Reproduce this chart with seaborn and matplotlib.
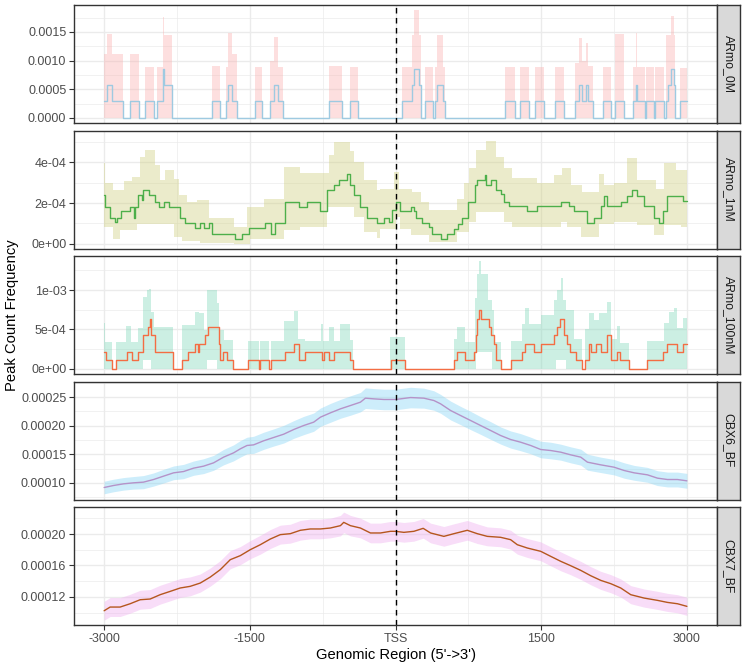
import numpy as np
import pandas as pd
import matplotlib
matplotlib.use("Agg")
import matplotlib.pyplot as plt
import seaborn as sns
from matplotlib.ticker import FixedLocator, FixedFormatter

sns.set_style("white")
plt.rcParams["font.family"] = ["Liberation Sans", "DejaVu Sans"]

# ---------------- data ----------------
facets = ["ARmo_0M", "ARmo_1nM", "ARmo_100nM", "CBX6_BF", "CBX7_BF"]
x_ticks = [-3000, -1500, 0, 1500, 3000]
x_ticklabels = ["-3000", "-1500", "TSS", "1500", "3000"]

# ARmo_0M (values in units of 1e-4, step changes at x)
p1_mean_x = [-3000, -2969, -2915, -2807, -2738, -2645, -2575, -2485, -2454, -2395, -2385, -2302,
             -1893, -1804, -1749, -1722, -1687, -1632, -1450, -1371, -1296, -1247, -1206, -1158,
             -684, -553, -471, -385, 72, 165, 186, 240, 265, 302, 385, 405, 430, 488, 508,
             1124, 1234, 1278, 1371, 1433, 1526, 1643, 1732, 1849, 1890, 1918, 1959, 1983, 2031,
             2134, 2216, 2265, 2357, 2443, 2475, 2485, 2570, 2580, 2663, 2670, 2766, 2790, 2810,
             2835, 2870, 2879, 2930]
p1_mean = [2.87, 5.74, 2.87, 0, 2.87, 0, 2.87, 0, 2.87, 8.61, 5.74, 0,
           2.87, 0, 2.87, 5.74, 2.87, 0, 2.87, 0, 2.87, 5.74, 2.87, 0,
           2.87, 0, 2.87, 0, 2.87, 5.74, 8.61, 5.74, 0, 2.87, 0, 2.87, 5.74, 2.87, 0,
           2.87, 0, 2.87, 0, 2.87, 0, 2.87, 0, 2.87, 5.74, 2.87, 5.74, 2.87, 0,
           2.87, 0, 2.87, 0, 2.87, 5.74, 2.87, 0, 2.87, 0, 2.87, 0, 2.87, 5.74,
           8.61, 5.74, 0, 2.87]
p1_hi = [11.2, 14.7, 11.2, 0, 11.2, 0, 8.9, 0, 8.9, 17.6, 14.5, 0,
         9.0, 0, 8.9, 14.8, 11.2, 0, 8.9, 0, 10.0, 14.2, 8.8, 0,
         9.0, 0, 8.8, 0, 8.8, 14.5, 18.9, 14.5, 0, 8.8, 0, 8.8, 14.5, 8.8, 0,
         8.8, 0, 8.8, 0, 8.8, 0, 8.8, 0, 9.5, 14.0, 10.0, 13.0, 9.0, 0,
         8.8, 0, 14.7, 0, 8.8, 14.8, 8.8, 0, 8.8, 0, 8.8, 0, 14.5, 14.5,
         17.7, 14.5, 0, 8.7]
p1_lo_x = [-3000]
p1_lo = [0]

# ARmo_1nM (units of 1e-4)
p2_mean_x = [-3000, -2990, -2938, -2887, -2869, -2828, -2732, -2691, -2680, -2646, -2612, -2601,
             -2536, -2471, -2430, -2388, -2337, -2217, -2165, -2062, -2010, -1976, -1924, -1890,
             -1650, -1581, -1512, -1340, -1282, -1237, -1134, -997, -911, -773, -705, -636, -584,
             -499, -464, -430, -361, -293, -189, -120, -69, -34, 0, 51, 155, 189, 216, 275, 344,
             378, 464, 533, 601, 642, 687, 746, 814, 842, 918, 928, 979, 1031, 1082, 1117, 1168,
             1357, 1460, 1701, 1787, 1838, 1976, 2044, 2113, 2147, 2182, 2319, 2388, 2440, 2491,
             2560, 2663, 2715, 2749, 2800, 2955]
p2_mean = [2.39, 1.81, 1.28, 1.07, 1.28, 1.61, 1.81, 1.28, 1.81, 2.39, 2.14, 2.62,
           2.39, 2.06, 1.81, 2.06, 1.81, 1.28, 1.02, 0.79, 1.02, 0.79, 1.02, 0.49,
           0.25, 0.49, 0.79, 1.02, 0.49, 1.02, 2.06, 1.81, 2.06, 1.61, 2.62, 2.88, 3.13,
           3.41, 2.88, 2.39, 1.81, 1.28, 1.02, 1.27, 1.07, 1.64, 2.06, 1.6, 1.81, 1.6, 1.27, 1.02, 0.82,
           0.49, 0.25, 0.49, 0.74, 0.99, 1.27, 2.06, 2.88, 3.13, 3.40, 2.88, 3.13, 2.63, 2.42, 2.06, 1.84,
           1.6, 1.84, 2.06, 1.84, 1.6, 1.04, 1.27, 1.84, 2.35, 1.84, 2.06, 2.35, 2.63, 2.35,
           1.84, 1.27, 1.04, 1.6, 2.35, 2.09]
p2_hi_x = [-3000, -2990, -2904, -2794, -2715, -2629, -2577, -2474, -2423, -2371, -2285, -2234,
           -2148, -2045, -1924, -1667, -1529, -1358, -1151, -980, -688, -636, -464, -430, -327,
           -189, -155, -17, 34, 172, 258, 344, 636, 704, 756, 825, 928, 1031, 1117, 1203, 1460,
           1632, 1718, 1804, 1924, 2096, 2147, 2250, 2388, 2491, 2680, 2766, 2886]
p2_hi = [3.95, 2.96, 2.63, 3.08, 3.29, 4.28, 4.58, 3.87, 3.13, 3.62, 3.16, 2.39,
         2.06, 2.14, 1.28, 0.82, 1.81, 2.22, 3.79, 3.46, 4.36, 5.02, 4.53, 4.03, 3.13,
         2.63, 2.71, 3.54, 2.71, 2.55, 2.06, 1.64, 2.22, 2.96, 3.70, 4.61, 5.05, 4.28, 3.70, 3.21, 2.96,
         3.37, 3.70, 2.88, 2.55, 3.45, 2.88, 2.96, 4.19, 3.13, 2.71, 3.95, 3.62]
p2_lo_x = [-3000, -2904, -2835, -2663, -2285, -2199, -2010, -1667, -1495, -1151, -980, -705,
           -430, -327, -189, -155, 0, 51, 155, 344, 636, 756, 825, 1117, 1203, 1701, 1770,
           1907, 2096, 2250, 2491, 2663, 2766, 2938]
p2_lo = [0.82, 0.25, 0.66, 0.95, 0.33, 0.16, 0.03, 0.0, 0.25, 0.66, 0.82, 1.81,
         1.32, 0.58, 0.30, 0.74, 1.32, 0.74, 0.41, 0.08, 0.58, 1.07, 1.56, 1.07, 0.82, 1.07, 0.82,
         0.33, 0.99, 1.07, 0.9, 0.41, 0.9, 0.82]

# ARmo_100nM (units of 1e-4)
p3_mean_x = [-3000, -2979, -2914, -2876, -2766, -2715, -2646, -2601, -2543, -2526, -2515, -2481,
             -2292, -2199, -2138, -2062, -2038, -2024, -1959, -1935, -1821, -1804, -1777, -1735,
             -1677, -1522, -1409, -1399, -1306, -1282, -1134, -1048, -997, -928, -756, -732, -688,
             -636, -464, -437, -45, 93, 601, 636, 715, 808, 828, 842, 860, 876, 962, 986, 1014,
             1031, 1089, 1185, 1306, 1330, 1426, 1501, 1632, 1660, 1694, 1735, 1763, 1797, 1855,
             1924, 1948, 1993, 2017, 2062, 2113, 2182, 2216, 2278, 2312, 2405, 2594, 2749, 2800,
             2903, 2955]
p3_mean = [2.12, 1.06, 0, 1.06, 2.12, 1.06, 2.12, 4.24, 5.3, 6.36, 4.24, 2.12,
           0, 1.06, 2.12, 3.18, 2.12, 3.18, 4.24, 5.3, 3.18, 1.06, 2.12, 1.06,
           0, 1.06, 0, 1.06, 0, 1.06, 2.12, 3.18, 1.06, 2.12, 1.06, 2.12, 1.06,
           2.12, 1.06, 0, 1.06, 0, 1.06, 2.12, 1.06, 2.12, 4.24, 6.36, 7.42, 6.36, 5.3, 4.24, 3.18,
           1.06, 0, 1.06, 2.12, 3.18, 2.12, 3.18, 4.24, 5.3, 6.36, 4.24, 3.18, 2.12, 1.06,
           0, 1.06, 3.18, 2.12, 3.18, 2.12, 4.24, 1.06, 2.12, 1.06, 0, 1.06, 2.12, 3.18,
           2.12, 3.18]
p3_hi_x = [-3000, -2990, -2914, -2876, -2773, -2725, -2656, -2601, -2560, -2536, -2519, -2485,
           -2292, -2199, -2062, -2024, -1969, -1942, -1839, -1814, -1770, -1677, -1522, -1409,
           -1399, -1306, -1282, -1151, -1048, -1004, -928, -766, -746, -688, -636, -574, -464,
           -437, -52, 93, 601, 636, 711, 814, 842, 860, 876, 952, 996, 1014, 1089, 1185, 1306,
           1330, 1374, 1501, 1632, 1666, 1701, 1728, 1752, 1838, 1924, 1948, 1993, 2044, 2096,
           2182, 2216, 2278, 2312, 2405, 2594, 2766, 2818, 2869, 2903, 2955]
p3_hi = [5.85, 3.43, 0, 3.43, 5.42, 3.43, 5.13, 9.15, 10.0, 10.2, 7.25, 5.34,
         0, 5.55, 7.25, 7.03, 4.92, 10.0, 8.31, 4.92, 3.64, 0, 3.56, 0,
         3.56, 0, 3.56, 6.1, 7.33, 3.73, 3.56, 5.68, 3.56, 5.34, 3.56, 5.68, 3.64,
         0, 3.98, 0, 3.73, 5.34, 3.43, 8.94, 12.1, 13.7, 12.1, 8.73, 7.46, 3.43, 0, 3.56, 5.68,
         7.67, 5.68, 6.82, 8.73, 10.0, 11.5, 8.73, 7.46, 3.73, 0, 5.0, 7.12, 6.19, 7.12,
         8.52, 3.73, 5.42, 3.31, 0, 3.56, 5.76, 7.25, 7.67, 5.13, 6.4]
p3_lo_x = [-3000, -2601, -2519, -1942, -1839, 831, 996, 1649, 1752]
p3_lo = [0, 1.06, 0, 1.06, 0, 2.12, 0, 1.06, 0]

# CBX6_BF (units of 1e-5)
cbx6_x = [-3000, -2904, -2801, -2698, -2595, -2491, -2388, -2285, -2182, -2079, -1976, -1873,
          -1770, -1667, -1598, -1529, -1461, -1358, -1255, -1151, -1048, -945, -842, -773,
          -670, -567, -464, -361, -310, -224, -120, 0, 52, 155, 292, 395, 464, 567, 670, 773,
          876, 979, 1082, 1185, 1288, 1392, 1495, 1598, 1701, 1804, 1907, 1976, 2113, 2250,
          2354, 2457, 2594, 2697, 2800, 2903, 3000]
cbx6_mean = [9.18, 9.53, 9.82, 10.0, 10.12, 10.58, 11.17, 11.75, 11.98, 12.57, 12.92, 13.5,
             14.5, 15.25, 15.95, 16.54, 16.65, 17.36, 17.94, 18.52, 19.34, 20.04, 20.63, 21.5,
             22.26, 22.96, 23.54, 24.13, 24.83, 24.71, 24.6, 24.6, 24.71, 24.94, 24.83, 24.42,
             23.84, 22.67, 21.79, 20.92, 20.04, 19.17, 18.29, 17.59, 17.12, 16.54, 15.84, 15.66,
             15.37, 14.9, 14.5, 13.62, 13.15, 12.74, 12.16, 11.75, 11.4, 10.82, 10.58, 10.58, 10.35]
cbx6_ci = [1.1, 1.1, 1.1, 1.1, 1.15, 1.15, 1.2, 1.2, 1.25, 1.25, 1.3, 1.3,
           1.35, 1.4, 1.45, 1.45, 1.5, 1.5, 1.5, 1.55, 1.55, 1.6, 1.6, 1.6,
           1.65, 1.65, 1.7, 1.7, 1.8, 1.8, 1.8, 1.8, 1.8, 1.8, 1.75, 1.7,
           1.65, 1.65, 1.6, 1.6, 1.55, 1.55, 1.5, 1.5, 1.5, 1.45, 1.45, 1.45,
           1.4, 1.4, 1.4, 1.4, 1.35, 1.35, 1.35, 1.3, 1.3, 1.3, 1.3, 1.3, 1.3]

# CBX7_BF (units of 1e-5)
cbx7_x = [-3000, -2938, -2835, -2732, -2629, -2526, -2423, -2320, -2217, -2114, -2010, -1907,
          -1804, -1701, -1598, -1495, -1392, -1289, -1186, -1083, -980, -877, -774, -671,
          -567, -533, -464, -361, -258, -155, -52, 0, 86, 189, 285, 361, 498, 601, 739, 842,
          945, 1082, 1185, 1254, 1357, 1495, 1598, 1701, 1804, 1907, 2010, 2113, 2216, 2319,
          2422, 2560, 2697, 2800, 2903, 3000]
cbx7_mean = [10.25, 10.72, 10.72, 11.14, 11.65, 11.74, 12.29, 12.71, 13.14, 13.35, 13.77, 14.53,
             15.47, 16.74, 17.25, 18.01, 18.64, 19.36, 19.92, 20.04, 20.47, 20.64, 20.64, 20.76,
             21.06, 21.48, 21.06, 20.76, 20.13, 20.13, 20.34, 20.34, 20.21, 20.34, 20.72, 20.13,
             19.70, 20.04, 20.47, 20.04, 19.70, 19.58, 19.28, 18.64, 18.22, 17.80, 17.16, 16.53,
             15.97, 15.38, 14.70, 14.11, 13.69, 13.14, 12.29, 11.86, 11.57, 11.31, 11.14, 10.81]
cbx7_ci = [1.2, 1.2, 1.2, 1.2, 1.2, 1.2, 1.2, 1.2, 1.2, 1.2, 1.15, 1.15,
           1.15, 1.15, 1.15, 1.15, 1.2, 1.2, 1.2, 1.2, 1.25, 1.25, 1.25, 1.25,
           1.3, 1.3, 1.3, 1.25, 1.25, 1.25, 1.25, 1.25, 1.25, 1.25, 1.25, 1.25,
           1.25, 1.25, 1.25, 1.25, 1.2, 1.2, 1.2, 1.2, 1.2, 1.2, 1.2, 1.2,
           1.15, 1.15, 1.15, 1.15, 1.15, 1.15, 1.15, 1.15, 1.15, 1.15, 1.15, 1.15]

# y-axis ticks per facet
y_major = [[0.0, 0.0005, 0.0010, 0.0015],
           [0.0, 2e-4, 4e-4],
           [0.0, 5e-4, 1e-3],
           [1.0e-4, 1.5e-4, 2.0e-4, 2.5e-4],
           [1.2e-4, 1.6e-4, 2.0e-4]]
y_labels = [["0.0000", "0.0005", "0.0010", "0.0015"],
            ["0e+00", "2e-04", "4e-04"],
            ["0e+00", "5e-04", "1e-03"],
            ["0.00010", "0.00015", "0.00020", "0.00025"],
            ["0.00012", "0.00016", "0.00020"]]

# ---------------- style ----------------
fill_cols = ["#FAB1AF", "#CFCF7D", "#80D7B9", "#82D4F5", "#EEAAEE"]
line_cols = ["#9ECAE1", "#4DAF4A", "#F46D43", "#B592C8", "#B5561E"]
y_lims = [(-0.00009, 0.00197), (-0.000023, 0.000556), (-0.000067, 0.001434),
          (0.0000708, 0.0002775), (0.0000844, 0.0002343)]
y_minor = [[0.00025, 0.00075, 0.00125, 0.00175],
           [1e-4, 3e-4, 5e-4],
           [2.5e-4, 7.5e-4, 1.25e-3],
           [0.75e-4, 1.25e-4, 1.75e-4, 2.25e-4, 2.75e-4],
           [1.0e-4, 1.4e-4, 1.8e-4, 2.2e-4]]
x_minor = [-2250, -750, 750, 2250]

W, H = 745, 666
left_px, right_px = 74, 717
tops = [5, 130.5, 256, 381.5, 507]
ph = 118
X_END = 3000
TICK_FS = 9.0
TITLE_FS = 10.6
STRIP_FS = 8.8

fig = plt.figure(figsize=(W / 100, H / 100), dpi=100)


def step_eval(xs, vs, grid):
    idx = np.searchsorted(np.asarray(xs), grid, side="right") - 1
    return np.asarray(vs, dtype=float)[idx]


def step_panel(ax, mx, mv, hx, hv, lx, lv, scale, fill, line):
    grid = np.unique(np.concatenate([hx, lx, mx, [X_END]])).astype(float)
    hi = step_eval(hx, hv, grid) * scale
    lo = step_eval(lx, lv, grid) * scale
    ax.fill_between(grid, lo, hi, step="post", color=fill, alpha=0.4, lw=0, zorder=1)
    df = pd.DataFrame({"x": list(mx) + [X_END],
                       "y": (np.array(list(mv) + [mv[-1]], dtype=float) * scale)})
    sns.lineplot(data=df, x="x", y="y", ax=ax, color=line, lw=1.0,
                 drawstyle="steps-post", estimator=None, sort=False, zorder=2)


def smooth_panel(ax, xs, mean, ci, scale, fill, line):
    m = np.array(mean) * scale
    c = np.array(ci) * scale
    ax.fill_between(xs, m - c, m + c, color=fill, alpha=0.4, lw=0, zorder=1)
    df = pd.DataFrame({"x": xs, "y": m})
    sns.lineplot(data=df, x="x", y="y", ax=ax, color=line, lw=1.0,
                 estimator=None, sort=False, zorder=2)


axes = []
for i, top in enumerate(tops):
    bottom = 1 - (top + ph) / H
    ax = fig.add_axes([left_px / W, bottom, (right_px - left_px) / W, ph / H])
    axes.append(ax)
    if i == 0:
        step_panel(ax, p1_mean_x, p1_mean, p1_mean_x, p1_hi, p1_lo_x, p1_lo, 1e-4,
                   fill_cols[i], line_cols[i])
    elif i == 1:
        step_panel(ax, p2_mean_x, p2_mean, p2_hi_x, p2_hi, p2_lo_x, p2_lo, 1e-4,
                   fill_cols[i], line_cols[i])
    elif i == 2:
        step_panel(ax, p3_mean_x, p3_mean, p3_hi_x, p3_hi, p3_lo_x, p3_lo, 1e-4,
                   fill_cols[i], line_cols[i])
    elif i == 3:
        smooth_panel(ax, cbx6_x, cbx6_mean, cbx6_ci, 1e-5, fill_cols[i], line_cols[i])
    else:
        smooth_panel(ax, cbx7_x, cbx7_mean, cbx7_ci, 1e-5, fill_cols[i], line_cols[i])

    ax.axvline(0, color="black", ls=(0, (4, 3.2)), lw=1.0, zorder=3)
    ax.set_xlim(-3310, 3310)
    ax.set_ylim(*y_lims[i])
    ax.set_xlabel("")
    ax.set_ylabel("")
    ax.set_facecolor("white")
    for s in ax.spines.values():
        s.set_color("#333333")
        s.set_linewidth(1.0)
        s.set_zorder(4)
    ax.xaxis.set_major_locator(FixedLocator(x_ticks))
    ax.xaxis.set_minor_locator(FixedLocator(x_minor))
    ax.yaxis.set_major_locator(FixedLocator(y_major[i]))
    ax.yaxis.set_major_formatter(FixedFormatter(y_labels[i]))
    ax.yaxis.set_minor_locator(FixedLocator(y_minor[i]))
    ax.grid(which="major", color="#EBEBEB", lw=1.0)
    ax.grid(which="minor", color="#EBEBEB", lw=0.5)
    ax.set_axisbelow(True)
    ax.tick_params(which="minor", length=0)
    ax.tick_params(axis="y", which="major", length=3.5, width=0.8, color="#333333",
                   labelsize=TICK_FS, labelcolor="#4D4D4D", pad=2, left=True)
    if i < 4:
        ax.tick_params(axis="x", which="major", length=0, labelbottom=False)
    else:
        ax.xaxis.set_major_formatter(FixedFormatter(x_ticklabels))
        ax.tick_params(axis="x", which="major", length=3.5, width=0.8, color="#333333",
                       labelsize=TICK_FS, labelcolor="#4D4D4D", pad=2, bottom=True)

    sax = fig.add_axes([right_px / W, bottom, 23 / W, ph / H])
    sax.set_facecolor("#D9D9D9")
    sax.set_xticks([])
    sax.set_yticks([])
    for s in sax.spines.values():
        s.set_color("#333333")
        s.set_linewidth(1.0)
    sax.text(0.5, 0.5, facets[i], rotation=270, ha="center", va="center",
             fontsize=STRIP_FS, color="#1A1A1A", transform=sax.transAxes)

fig.text(12 / W, 1 - 315 / H, "Peak Count Frequency", rotation=90, ha="center",
         va="center", fontsize=TITLE_FS, color="black")
fig.text(395.5 / W, 1 - 655 / H, "Genomic Region (5'->3')", ha="center", va="center",
         fontsize=TITLE_FS, color="black")

fig.savefig("out.png", dpi=100, facecolor="white")
